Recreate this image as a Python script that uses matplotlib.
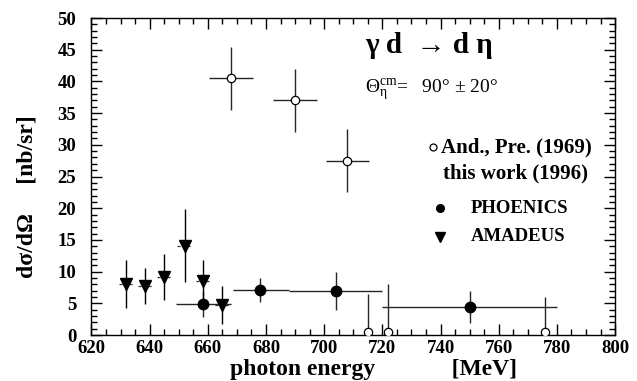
import numpy as np
import matplotlib
matplotlib.use("Agg")
import matplotlib.pyplot as plt
from matplotlib.ticker import MultipleLocator

plt.rcParams['font.family'] = ['Liberation Serif', 'DejaVu Serif']
plt.rcParams['mathtext.fontset'] = 'custom'
plt.rcParams['mathtext.rm'] = 'Liberation Serif'
plt.rcParams['mathtext.it'] = 'Liberation Serif:italic'
plt.rcParams['mathtext.bf'] = 'Liberation Serif:bold'

# And., Pre. (1969) - open circles
old_E = [668, 690, 708, 715, 722, 776]
old_xs = [7.5, 7.5, 7.5, 0, 0, 0]
old_val = [40.5, 37.0, 27.5, 0.5, 0.5, 0.5]
old_err_lo = [5.0, 5.0, 5.0, 0.0, 0.0, 0.0]
old_err_hi = [5.0, 5.0, 5.0, 6.0, 7.5, 5.5]

# PHOENICS - filled circles
ph_E = [658.5, 678, 704, 750]
ph_lo = [649, 668.5, 688, 720]
ph_hi = [668, 688, 720, 780]
ph_val = [4.9, 7.1, 6.9, 4.4]
ph_err = [2.0, 1.9, 3.0, 2.5]

# AMADEUS - down triangles
am_E = [632, 638.5, 645, 652, 658.5, 665]
am_val = [8.1, 7.7, 9.1, 14.1, 8.5, 4.7]
am_err = [3.8, 2.8, 3.6, 5.7, 3.3, 3.0]
am_xs = [2.5, 2.5, 2.5, 2.5, 2.5, 2.5]

fig = plt.figure(figsize=(6.37, 3.81), dpi=100)
ax = fig.add_axes([0.1436, 0.1207, 0.822, 0.832])

# old data
ax.errorbar(old_E, old_val, xerr=old_xs, yerr=[old_err_lo, old_err_hi],
            fmt='o', ms=6, mfc='white', mec='black', mew=0.9,
            ecolor='0.15', elinewidth=1.0, capsize=0, zorder=3)

# PHOENICS
ph_xerr = [np.array(ph_E) - np.array(ph_lo), np.array(ph_hi) - np.array(ph_E)]
ax.errorbar(ph_E, ph_val, xerr=ph_xerr, yerr=ph_err,
            fmt='o', ms=7.5, color='black', ecolor='0.15',
            elinewidth=1.0, capsize=0, zorder=3)

# AMADEUS (solid vertical, dashed horizontal)
ax.errorbar(am_E, am_val, yerr=am_err, fmt='v', ms=8.5, color='black',
            ecolor='black', elinewidth=1.0, capsize=0, zorder=3)
eb = ax.errorbar(am_E, am_val, xerr=am_xs, fmt='none', ecolor='0.2',
                 elinewidth=0.9, capsize=0, zorder=2)
eb[2][0].set_linestyle((0, (2.5, 1.5)))

ax.set_xlim(620, 800)
ax.set_ylim(0, 50)
ax.xaxis.set_major_locator(MultipleLocator(20))
ax.xaxis.set_minor_locator(MultipleLocator(5))
ax.yaxis.set_major_locator(MultipleLocator(5))
ax.yaxis.set_minor_locator(MultipleLocator(1))
ax.tick_params(which='both', direction='in', top=True, right=True,
               labelsize=13.5, width=1.0)
ax.tick_params(which='major', length=8)
ax.tick_params(which='minor', length=4)
ax.tick_params(axis='x', which='major', pad=3.5)
ax.tick_params(axis='y', which='major', pad=11)
for lab in ax.get_xticklabels() + ax.get_yticklabels():
    lab.set_fontweight('bold')
for s in ax.spines.values():
    s.set_linewidth(1.0)

ax.set_xlabel('photon energy             [MeV]', fontsize=17, fontweight='bold',
              va='top', ha='left')
ax.xaxis.set_label_coords(0.2646, -0.0757)
ax.set_ylabel('dσ/dΩ     [nb/sr]', fontsize=17, fontweight='bold')
ax.yaxis.set_label_coords(-0.104, 0.435)

# reaction and angle annotation
ax.text(714, 45.7, 'γ d  → d η', fontsize=21,
        fontweight='bold', va='center', ha='left')
ax.text(714, 38.6, r'Θ$_{\mathregular{η}}^{\mathregular{cm}}$=   90° ± 20°',
        fontsize=14, va='center', ha='left')

# hand-made legend
ax.plot([737.4], [29.6], 'o', ms=5, mfc='white', mec='black', mew=0.9)
ax.text(740.1, 29.6, 'And., Pre. (1969)', fontsize=15, fontweight='bold', va='center')
ax.text(740.9, 25.4, 'this work (1996)', fontsize=15, fontweight='bold', va='center')
ax.plot([739.8], [20.0], 'o', ms=5.5, color='black')
ax.text(750.5, 20.0, 'PHOENICS', fontsize=13.5, fontweight='bold', va='center')
ax.plot([739.8], [15.5], 'v', ms=6.5, color='black')
ax.text(750.5, 15.5, 'AMADEUS', fontsize=13.5, fontweight='bold', va='center')

fig.savefig('out.png', dpi=100)
